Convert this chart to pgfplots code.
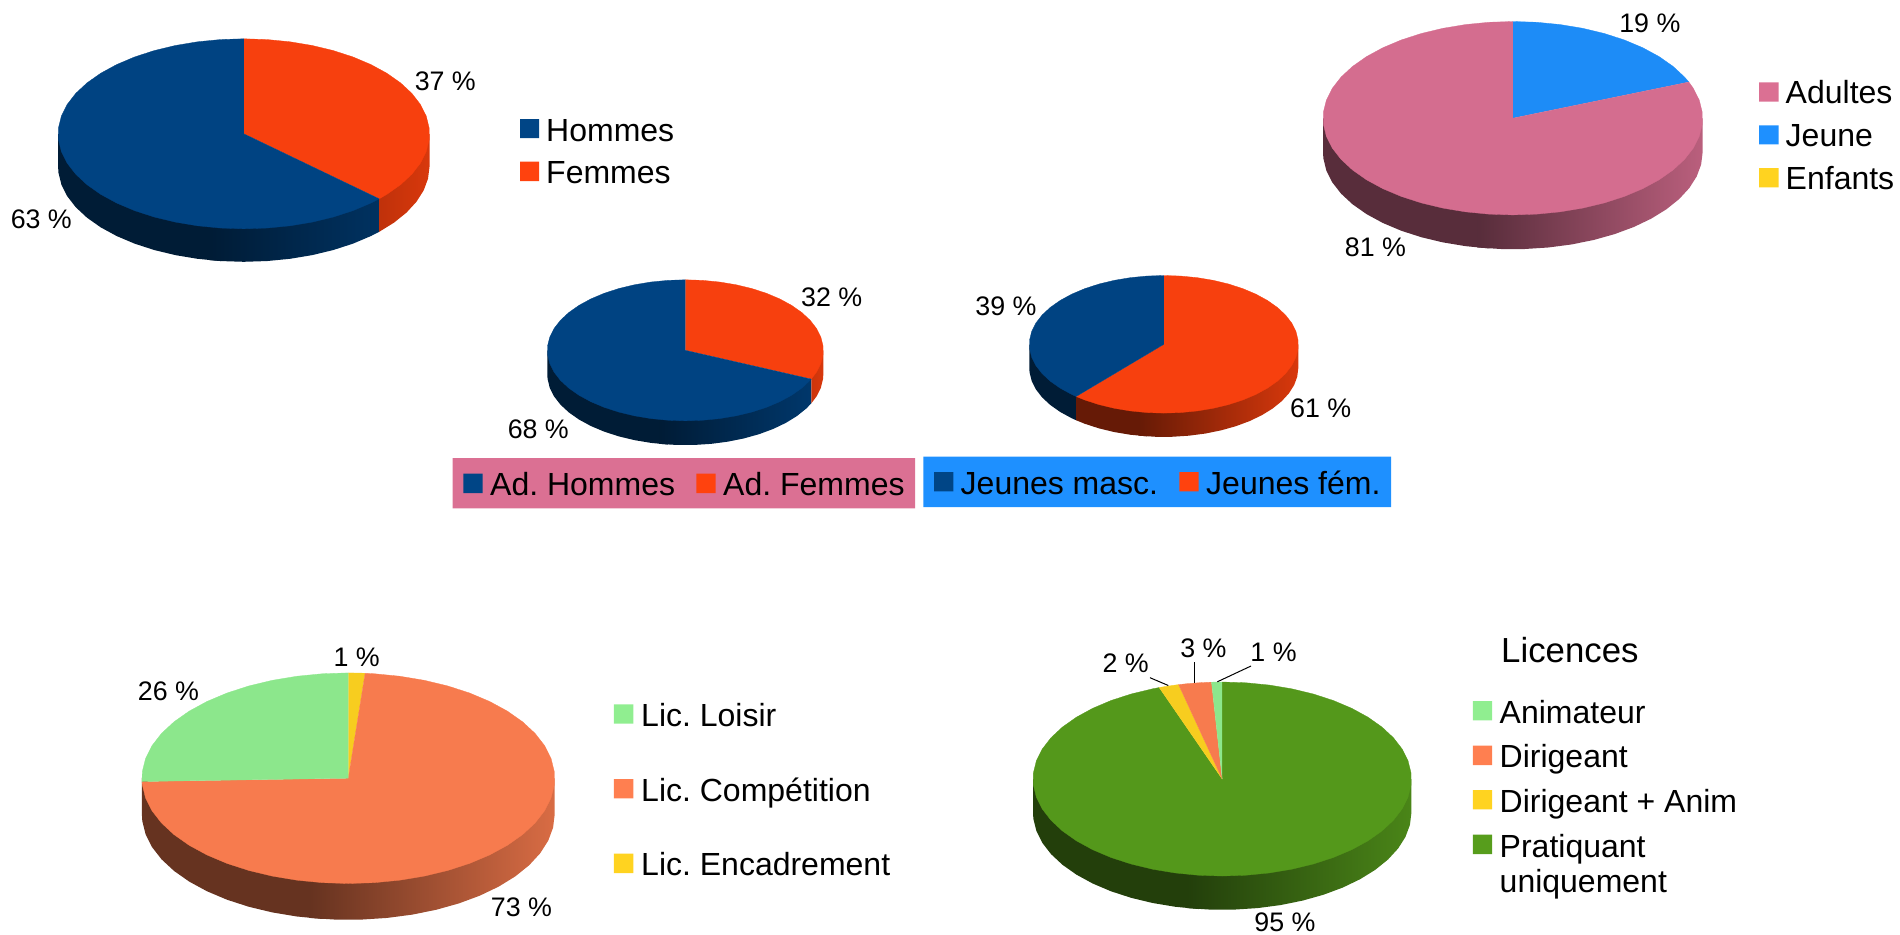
\documentclass[border=0pt]{standalone}
\usepackage{pgfplots}
\pgfplotsset{compat=1.18}
\usepackage{fontspec}
\setmainfont{Liberation Sans}
\definecolor{cBlue}{HTML}{004586}
\definecolor{cOrg}{HTML}{FF420E}
\definecolor{cPink}{HTML}{DB7093}
\definecolor{cSky}{HTML}{1E90FF}
\definecolor{cYel}{HTML}{FFD320}
\definecolor{cGrn}{HTML}{579D1C}
\definecolor{cCor}{HTML}{FF7F50}
\definecolor{cLgr}{HTML}{90EE90}
\newcommand\setpie[5]{\def\pcx{#1}\def\pcy{#2}\def\prx{#3}\def\pry{#4}\def\pdd{#5}}
% top face of a slice: p = position round the pie in percent, r = 0 centre, 1 rim
\newcommand\face[2]{\addplot[draw=#1!97!black,line width=0.3pt,fill=#1!97!black,forget plot] table[row sep=\\,x expr=\pcx+\prx*\thisrow{r}*sin(3.6*\thisrow{p}),y expr=\pcy-\pry*\thisrow{r}*cos(3.6*\thisrow{p})]{p r\\#2};}
% side wall: z = 1 lower rim, z = 0 upper rim; #1 = fill options
\newcommand\wall[2]{\addplot[draw=none,#1,forget plot] table[row sep=\\,x expr=\pcx+\prx*sin(3.6*\thisrow{p}),y expr=\pcy-\pry*cos(3.6*\thisrow{p})+\pdd*\thisrow{z}]{p z\\#2};}
\newcommand\swatch[5]{\addplot[draw=none,fill=#1,forget plot] coordinates {(#2,#3)(#4,#3)(#4,#5)(#2,#5)(#2,#3)};}
\newcommand\lab[3]{\node[anchor=base,yshift=-10pt,inner sep=0pt,text=black,font=\fontsize{26.8}{30}\selectfont] at (axis cs:#1,#2){#3};}
\newcommand\leg[3]{\node[anchor=base west,yshift=-11.8pt,inner sep=0pt,text=black,font=\fontsize{32}{36}\selectfont] at (axis cs:#1,#2){#3};}
\begin{document}
\frenchspacing
\begin{tikzpicture}
\path[use as bounding box] (0,0) rectangle (1900pt,934pt);
\begin{axis}[scale only axis,width=1900pt,height=934pt,xmin=0,xmax=1900,ymin=0,ymax=934,y dir=reverse,hide axis,clip=false]
% ---------- Pie 1: Hommes / Femmes
\setpie{243.8}{133.8}{185.7}{95}{33}
\wall{fill=cBlue!40!black}{52 1\\54 1\\56 1\\58 1\\60 1\\62 1\\64 1\\66 1\\68 1\\70 1\\72 1\\74 1\\75 1\\75 0\\52 0\\}
\wall{left color=cBlue!40!black,right color=cBlue!72!black}{37 1\\38 1\\40 1\\42 1\\44 1\\46 1\\48 1\\50 1\\52 1\\53 1\\53 0\\37 0\\}
\wall{left color=cOrg!75!black,right color=cOrg!85!black}{25 1\\27 1\\29 1\\31 1\\33 1\\35 1\\37 1\\37 0\\25 0\\}
\face{cOrg}{0 0\\0 1\\2 1\\4 1\\6 1\\8 1\\10 1\\12 1\\14 1\\16 1\\18 1\\20 1\\22 1\\24 1\\26 1\\28 1\\30 1\\32 1\\34 1\\36 1\\37 1\\}
\face{cBlue}{37 0\\37 1\\38 1\\40 1\\42 1\\44 1\\46 1\\48 1\\50 1\\52 1\\54 1\\56 1\\58 1\\60 1\\62 1\\64 1\\66 1\\68 1\\70 1\\72 1\\74 1\\76 1\\78 1\\80 1\\82 1\\84 1\\86 1\\88 1\\90 1\\92 1\\94 1\\96 1\\98 1\\100 1\\}
\lab{445.3}{80.8}{37 \%}
\lab{41.3}{218.3}{63 \%}
\swatch{cBlue}{520}{119}{539}{138}
\swatch{cOrg}{520}{161.7}{539}{181}
\leg{546}{129.3}{Hommes}
\leg{546}{171.7}{Femmes}
% ---------- Pie 2: Adultes / Jeune / Enfants
\setpie{1512.8}{118.2}{189.8}{96.7}{34.3}
\wall{fill=cPink!40!black}{52 1\\54 1\\56 1\\58 1\\60 1\\62 1\\64 1\\66 1\\68 1\\70 1\\72 1\\74 1\\75 1\\75 0\\52 0\\}
\wall{left color=cPink!40!black,right color=cPink!85!black}{25 1\\27 1\\29 1\\31 1\\33 1\\35 1\\37 1\\39 1\\41 1\\43 1\\45 1\\47 1\\49 1\\51 1\\53 1\\53 0\\25 0\\}
\face{cSky}{0 0\\0 1\\2 1\\4 1\\6 1\\8 1\\10 1\\12 1\\14 1\\16 1\\18 1\\18.9 1\\}
\face{cPink}{18.9 0\\18.9 1\\20 1\\22 1\\24 1\\26 1\\28 1\\30 1\\32 1\\34 1\\36 1\\38 1\\40 1\\42 1\\44 1\\46 1\\48 1\\50 1\\52 1\\54 1\\56 1\\58 1\\60 1\\62 1\\64 1\\66 1\\68 1\\70 1\\72 1\\74 1\\76 1\\78 1\\80 1\\82 1\\84 1\\86 1\\88 1\\90 1\\92 1\\94 1\\96 1\\98 1\\100 1\\}
\lab{1649.8}{22.2}{19 \%}
\lab{1375.4}{246.7}{81 \%}
\swatch{cPink}{1759}{82.3}{1778.7}{101.7}
\swatch{cSky}{1759}{125.3}{1778.7}{144.3}
\swatch{cYel}{1759}{168}{1778.7}{187.3}
\leg{1785.5}{92}{Adultes}
\leg{1785.5}{135}{Jeune}
\leg{1785.5}{178}{Enfants}
% ---------- Pie 3: Ad. Hommes / Ad. Femmes
\setpie{685.3}{350.3}{138}{70.5}{24.3}
\wall{fill=cBlue!40!black}{52 1\\54 1\\56 1\\58 1\\60 1\\62 1\\64 1\\66 1\\68 1\\70 1\\72 1\\74 1\\75 1\\75 0\\52 0\\}
\wall{left color=cBlue!40!black,right color=cBlue!80!black}{31.7 1\\33 1\\35 1\\37 1\\39 1\\41 1\\43 1\\45 1\\47 1\\49 1\\51 1\\53 1\\53 0\\31.7 0\\}
\wall{left color=cOrg!80!black,right color=cOrg!85!black}{25 1\\26 1\\28 1\\30 1\\31.7 1\\31.7 0\\25 0\\}
\face{cOrg}{0 0\\0 1\\2 1\\4 1\\6 1\\8 1\\10 1\\12 1\\14 1\\16 1\\18 1\\20 1\\22 1\\24 1\\26 1\\28 1\\30 1\\31.7 1\\}
\face{cBlue}{31.7 0\\31.7 1\\32 1\\34 1\\36 1\\38 1\\40 1\\42 1\\44 1\\46 1\\48 1\\50 1\\52 1\\54 1\\56 1\\58 1\\60 1\\62 1\\64 1\\66 1\\68 1\\70 1\\72 1\\74 1\\76 1\\78 1\\80 1\\82 1\\84 1\\86 1\\88 1\\90 1\\92 1\\94 1\\96 1\\98 1\\100 1\\}
\lab{831.7}{296}{32 \%}
\lab{538.3}{428.3}{68 \%}
% ---------- Pie 4: Jeunes masc. / Jeunes fem.
\setpie{1163.8}{344.3}{134.5}{68.8}{23.8}
\wall{fill=cBlue!40!black}{61.3 1\\62 1\\64 1\\66 1\\68 1\\70 1\\72 1\\74 1\\75 1\\75 0\\61.3 0\\}
\wall{fill=cOrg!40!black}{52 1\\54 1\\56 1\\58 1\\60 1\\61.3 1\\61.3 0\\52 0\\}
\wall{left color=cOrg!40!black,right color=cOrg!85!black}{25 1\\27 1\\29 1\\31 1\\33 1\\35 1\\37 1\\39 1\\41 1\\43 1\\45 1\\47 1\\49 1\\51 1\\53 1\\53 0\\25 0\\}
\face{cOrg}{0 0\\0 1\\2 1\\4 1\\6 1\\8 1\\10 1\\12 1\\14 1\\16 1\\18 1\\20 1\\22 1\\24 1\\26 1\\28 1\\30 1\\32 1\\34 1\\36 1\\38 1\\40 1\\42 1\\44 1\\46 1\\48 1\\50 1\\52 1\\54 1\\56 1\\58 1\\60 1\\61.3 1\\}
\face{cBlue}{61.3 0\\61.3 1\\62 1\\64 1\\66 1\\68 1\\70 1\\72 1\\74 1\\76 1\\78 1\\80 1\\82 1\\84 1\\86 1\\88 1\\90 1\\92 1\\94 1\\96 1\\98 1\\100 1\\}
\lab{1006}{305}{39 \%}
\lab{1320.7}{407.3}{61 \%}
% ---------- legend bars of pies 3 and 4
\swatch{cPink}{452.7}{458}{915}{508.3}
\swatch{cBlue}{463.3}{473.7}{482.7}{493}
\swatch{cOrg}{696.3}{473.7}{715.7}{493}
\leg{490}{483.3}{Ad. Hommes}
\leg{723}{483.3}{Ad. Femmes}
\swatch{cSky}{923.3}{456.7}{1391}{507}
\swatch{cBlue}{934}{472}{953.3}{491.3}
\swatch{cOrg}{1179.3}{472}{1198.7}{491.3}
\leg{960.5}{482.7}{Jeunes masc.}
\leg{1206}{482.7}{Jeunes fém.}
% ---------- Pie 5: Lic. Loisir / Competition / Encadrement
\setpie{348.3}{778.2}{206.4}{105.3}{36.3}
\wall{fill=cCor!40!black}{52 1\\54 1\\56 1\\58 1\\60 1\\62 1\\64 1\\66 1\\68 1\\70 1\\72 1\\74 1\\75 1\\75 0\\52 0\\}
\wall{left color=cCor!40!black,right color=cCor!85!black}{25 1\\27 1\\29 1\\31 1\\33 1\\35 1\\37 1\\39 1\\41 1\\43 1\\45 1\\47 1\\49 1\\51 1\\53 1\\53 0\\25 0\\}
\face{cYel}{0 0\\0 1\\1 1\\1.3 1\\}
\face{cCor}{1.3 0\\1.3 1\\2 1\\4 1\\6 1\\8 1\\10 1\\12 1\\14 1\\16 1\\18 1\\20 1\\22 1\\24 1\\26 1\\28 1\\30 1\\32 1\\34 1\\36 1\\38 1\\40 1\\42 1\\44 1\\46 1\\48 1\\50 1\\52 1\\54 1\\56 1\\58 1\\60 1\\62 1\\64 1\\66 1\\68 1\\70 1\\72 1\\74 1\\74.5 1\\}
\face{cLgr}{74.5 0\\74.5 1\\76 1\\78 1\\80 1\\82 1\\84 1\\86 1\\88 1\\90 1\\92 1\\94 1\\96 1\\98 1\\100 1\\}
\lab{356.7}{656.7}{1 \%}
\lab{168.5}{690}{26 \%}
\lab{521.5}{906}{73 \%}
\swatch{cLgr}{613.9}{704.3}{633.3}{723.7}
\swatch{cCor}{613.9}{779}{633.3}{798.3}
\swatch{cYel}{613.9}{853.7}{633.3}{873}
\leg{641}{715}{Lic. Loisir}
\leg{641}{790}{Lic. Compétition}
\leg{641}{864}{Lic. Encadrement}
% ---------- Pie 6: Licences
\setpie{1222.2}{779}{189.2}{97}{33.8}
\wall{fill=cGrn!40!black}{52 1\\54 1\\56 1\\58 1\\60 1\\62 1\\64 1\\66 1\\68 1\\70 1\\72 1\\74 1\\75 1\\75 0\\52 0\\}
\wall{left color=cGrn!40!black,right color=cGrn!85!black}{25 1\\27 1\\29 1\\31 1\\33 1\\35 1\\37 1\\39 1\\41 1\\43 1\\45 1\\47 1\\49 1\\51 1\\53 1\\53 0\\25 0\\}
\face{cGrn}{0 0\\0 1\\2 1\\4 1\\6 1\\8 1\\10 1\\12 1\\14 1\\16 1\\18 1\\20 1\\22 1\\24 1\\26 1\\28 1\\30 1\\32 1\\34 1\\36 1\\38 1\\40 1\\42 1\\44 1\\46 1\\48 1\\50 1\\52 1\\54 1\\56 1\\58 1\\60 1\\62 1\\64 1\\66 1\\68 1\\70 1\\72 1\\74 1\\76 1\\78 1\\80 1\\82 1\\84 1\\86 1\\88 1\\90 1\\92 1\\94 1\\94.6 1\\}
\face{cYel}{94.6 0\\94.6 1\\95 1\\96 1\\96.3 1\\}
\face{cCor}{96.3 0\\96.3 1\\97 1\\98 1\\99 1\\99.1 1\\}
\face{cLgr}{99.1 0\\99.1 1\\100 1\\}
\addplot[black,line width=1pt,forget plot] coordinates {(1150,677.7)(1168.3,685.5)};
\addplot[black,line width=1pt,forget plot] coordinates {(1194.3,662.3)(1194.3,683)};
\addplot[black,line width=1pt,forget plot] coordinates {(1251,666)(1217.3,681.8)};
\lab{1125.6}{662.3}{2 \%}
\lab{1203.4}{647.3}{3 \%}
\lab{1273.5}{651}{1 \%}
\lab{1285}{921}{95 \%}
\node[anchor=base west,yshift=-12.7pt,inner sep=0pt,text=black,font=\fontsize{34.8}{40}\selectfont] at (axis cs:1501,650){Licences};
\swatch{cLgr}{1472.8}{701}{1492.1}{720.3}
\swatch{cCor}{1472.8}{745.7}{1492.1}{765}
\swatch{cYel}{1472.8}{790}{1492.1}{809.3}
\swatch{cGrn}{1472.8}{834.7}{1492.1}{854}
\leg{1499.5}{712}{Animateur}
\leg{1499.5}{756}{Dirigeant}
\leg{1499.5}{801}{Dirigeant + Anim}
\leg{1499.5}{846}{Pratiquant}
\leg{1499.5}{881}{uniquement}
\end{axis}
\end{tikzpicture}
\end{document}
